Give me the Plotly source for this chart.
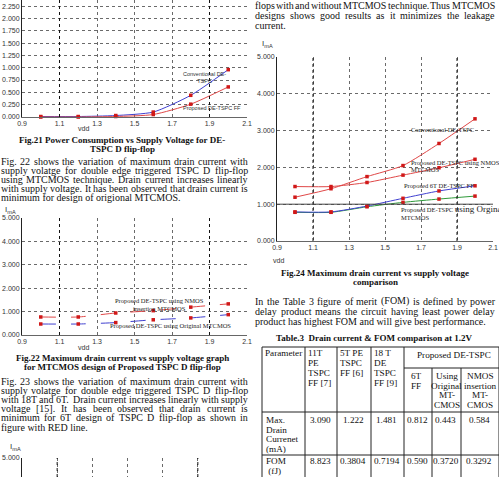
import plotly.graph_objects as go

W, H = 499, 477

# ---------------- data ----------------
vdd = [1.0, 1.2, 1.4, 1.6, 1.8, 2.0]
vdd_ticks = [0.9, 1.1, 1.3, 1.5, 1.7, 1.9, 2.1]

# Fig.21 power consumption
fig21_conventional = [0.01, 0.01, 0.03, 0.10, 0.44, 0.96]
fig21_proposed = [0.00, 0.00, 0.01, 0.05, 0.26, 0.61]
fig21_yticks = [0, 0.25, 0.5, 0.75, 1.0, 1.25, 1.5, 1.75, 2.0, 2.25]

# Fig.22 drain current, MTCMOS designs
fig22_nmos = [0.77, 0.77, 0.94, 1.04, 1.19, 1.33]
fig22_original = [0.47, 0.47, 0.53, 0.65, 0.73, 0.87]

# Fig.24 drain current comparison
fig24_conventional = [1.19, 1.42, 1.75, 2.05, 2.65, 3.32]
fig24_nmos = [1.48, 1.48, 1.59, 1.79, 1.99, 2.22]
fig24_6t = [0.79, 0.79, 0.95, 1.16, 1.36, 1.50]
fig24_original = [0.78, 0.78, 0.93, 1.05, 1.14, 1.22]

current_yticks = [0, 1, 2, 3, 4, 5]

# Table 3
table_title = "Table.3  Drain current & FOM comparison at 1.2V"
table_param = "Parameter"
table_col_heads = [["11T", "PE", "TSPC", "FF [7]"], ["5T PE", "TSPC", "FF [6]"], ["18 T", "DE", "TSPC", "FF [9]"]]
table_group_head = "Proposed DE-TSPC"
table_sub_heads = [["6T", "FF"], ["Using", "Original", "MT-", "CMOS"], ["NMOS", "insertion", "MT-", "CMOS"]]
table_row_heads = [["Max.", "Drain", "Currenet", "(mA)"], ["FOM", " (fJ)"]]
drain_current = ["3.090", "1.222", "1.481", "0.812", "0.443", "0.584"]
fom = ["8.823", "0.3804", "0.7194", "0.590", "0.3720", "0.3292"]

# Page text
caption21 = ["Fig.21 Power Consumption vs Supply Voltage for DE-", "TSPC D flip-flop"]
para22 = [
    "Fig. 22 shows the variation of maximum drain current with",
    "supply volatge for double edge triggered TSPC D flip-flop",
    "using MTCMOS technique. Drain current increases linearly",
    "with supply voltage. It has been observed that drain current is",
    "minimum for design of origional MTCMOS.",
]
caption22 = ["Fig.22 Maximum drain current vs supply voltage graph", "for MTCMOS design of Proposed TSPC D flip-flop"]
para23 = [
    "Fig. 23 shows the variation of maximum drain current with",
    "supply volatge for double edge triggered TSPC D flip-flop",
    "with 18T and 6T. Drain current increases linearly with supply",
    "voltage [15]. It has been observed that drain current is",
    "minimum for 6T design of TSPC D flip-flop as shown in",
    "figure with RED line.",
]
para_right_top = [
    "supply voltage for double edge triggered TSPC D flip-",
    "flops with and without MTCMOS technique. Thus MTCMOS",
    "designs shows good results as it minimizes the leakage",
    "current.",
]
caption24 = ["Fig.24 Maximum drain current vs supply voltage", "comparison"]
para_fom = [
    "In the Table 3 figure of merit (FOM) is defined by power",
    "delay product means the circuit having least power delay",
    "product has highest FOM and will give best performance.",
]

# ---------------- helpers ----------------
SERIF = "Liberation Serif"
SANS = "Liberation Sans"
GRID = "#6a6a6a"
TICKFONT = dict(family=SANS, size=7, color="#333")
RED = "#e04848"
MRED = "#d01818"
BLUE = "#4040d0"
GREEN = "#2f9a3a"

TIMES = {" ": 250, "!": 333, "&": 778, "(": 333, ")": 333, ",": 250, "-": 333, ".": 250,
         ":": 278, ";": 278, "[": 333, "]": 333,
         "A": 722, "B": 667, "C": 667, "D": 722, "E": 611, "F": 556, "G": 722, "H": 722, "I": 333,
         "J": 389, "K": 722, "L": 611, "M": 889, "N": 722, "O": 722, "P": 556, "Q": 722, "R": 667,
         "S": 556, "T": 611, "U": 722, "V": 722, "W": 944, "X": 722, "Y": 722, "Z": 611,
         "a": 444, "b": 500, "c": 444, "d": 500, "e": 444, "f": 333, "g": 500, "h": 500, "i": 278,
         "j": 278, "k": 500, "l": 278, "m": 778, "n": 500, "o": 500, "p": 500, "q": 500, "r": 333,
         "s": 389, "t": 278, "u": 500, "v": 500, "w": 722, "x": 500, "y": 500, "z": 444}


def tw(s, size):
    return sum(TIMES.get(c, 500) for c in s) * size / 1000.0


annotations = []
shapes = []


def ann(text, x, y, size=10, family=SERIF, xanchor="left", color="#111", xref="paper", yref="paper", yanchor="middle"):
    if xref == "paper":
        x = x / W
    if yref == "paper":
        y = 1 - y / H
    annotations.append(dict(text=text, x=x, y=y, xref=xref, yref=yref, xanchor=xanchor, yanchor=yanchor,
                            showarrow=False, borderpad=0, borderwidth=0,
                            font=dict(family=family, size=size, color=color)))


def paragraph(lines, x0, x1, y0, dy, size=10, last_justify=False):
    for i, line in enumerate(lines):
        y = y0 + i * dy
        words = line.split()
        is_last = i == len(lines) - 1
        if (is_last and not last_justify) or len(words) == 1:
            ann(line, x0, y, size)
            continue
        widths = [tw(w, size) for w in words]
        gap = (x1 - x0 - sum(widths)) / (len(words) - 1)
        x = x0
        for w, wd in zip(words, widths):
            ann(w, x, y, size)
            x += wd + gap


def centered(lines, xc, y0, dy, size=9):
    for i, line in enumerate(lines):
        ann("<b>" + line + "</b>", xc, y0 + i * dy, size, xanchor="center")


def xaxis(x0, x1, anchor, labels=True):
    return dict(domain=[x0 / W, x1 / W], anchor=anchor, range=[0.9, 2.1], tickvals=vdd_ticks,
                ticktext=[f"{v:.1f}" for v in vdd_ticks], showticklabels=labels,
                showgrid=True, gridcolor=GRID, griddash="dot", gridwidth=1, zeroline=False,
                showline=True, linecolor="#666", linewidth=1, ticks="", tickfont=TICKFONT,
                automargin=False, fixedrange=True)


def yaxis(ybot, ytop, anchor, rng, ticks):
    d0 = max(0.0, 1 - ybot / H)
    d1 = min(1.0, 1 - ytop / H)
    return dict(domain=[d0, d1], anchor=anchor, range=rng, tickvals=ticks,
                ticktext=[f"{v:.3f}" for v in ticks], showgrid=True, gridcolor=GRID, griddash="dot",
                gridwidth=1, zeroline=False, showline=True, linecolor="#222", linewidth=1,
                ticks="", tickfont=TICKFONT, automargin=False, fixedrange=True)


fig = go.Figure()


def series(xa, ya, y, color, dash="solid", width=1):
    fig.add_trace(go.Scatter(x=vdd, y=y, xaxis=xa, yaxis=ya, mode="lines+markers",
                             line=dict(color=color, width=width, dash=dash, shape="spline", smoothing=0.6),
                             marker=dict(symbol="square", size=3.5, color=MRED),
                             cliponaxis=False, hoverinfo="skip"))


# Fig.21
series("x", "y", fig21_conventional, BLUE)
series("x", "y", fig21_proposed, RED)
# Fig.22
series("x2", "y2", fig22_nmos, RED, dash="longdash")
series("x2", "y2", fig22_original, BLUE, dash="longdash")
# Fig.24
series("x3", "y3", fig24_conventional, RED)
series("x3", "y3", fig24_nmos, RED)
series("x3", "y3", fig24_original, GREEN)
series("x3", "y3", fig24_6t, BLUE)
# Fig.23 (only top of frame visible)
fig.add_trace(go.Scatter(x=[None], y=[None], xaxis="x4", yaxis="y4", mode="lines", hoverinfo="skip"))

PX21 = 49.3  # px per unit fig21
layout_axes = dict(
    xaxis=xaxis(22, 247, "y"),
    yaxis=yaxis(117, -10, "x", [0, 117 / PX21], fig21_yticks),
    xaxis2=xaxis(22, 247, "y2"),
    yaxis2=yaxis(335, 218, "x2", [0, 5], current_yticks),
    xaxis3=xaxis(277, 493, "y3"),
    yaxis3=yaxis(241, 57, "x3", [0, 5], current_yticks),
    xaxis4=xaxis(22, 233, "y4", labels=False),
    yaxis4=yaxis(477, 458, "x4", [4.6, 5.0], [5]),
)

# darker grid lines
for xa, ya in [("x", "y"), ("x2", "y2"), ("x3", "y3"), ("x4", "y4")]:
    for xv in (1.1, 1.9):
        shapes.append(dict(type="line", xref=xa, yref=ya + " domain", x0=xv, x1=xv, y0=0, y1=1,
                           line=dict(color="#111", width=1, dash="dot")))
shapes.append(dict(type="line", xref="x3 domain", yref="y3", x0=0, x1=1, y0=1, y1=1,
                   line=dict(color="#444", width=1)))

# chart labels
ann("vdd", 83, 128, 7, SANS, "center", "#333")
ann("vdd", 83, 347, 7, SANS, "center", "#333")
ann("vdd", 278, 260, 7, SANS, "center", "#333")
ann("I<sub>mA</sub>", 5, 210, 8, SANS, "left", "#333")
ann("I<sub>mA</sub>", 262, 44, 8, SANS, "left", "#333")
ann("I<sub>mA</sub>", 10, 447, 8, SANS, "left", "#333")

ann("Conventional DE-<br>TSPC", 1.76, 0.81, 5.5, SANS, "left", "#333", "x", "y")
ann("Proposed DE-TSPC FF", 1.757, 0.18, 5.5, SANS, "left", "#333", "x", "y")

ann("Proposed DE-TSPC using NMOS<br>insertion MTCMOS", 1.396, 1.30, 6.5, SERIF, "left", "#222", "x2", "y2")
ann("Proposed DE-TSPC using Original MTCMOS", 1.369, 0.39, 6.5, SERIF, "left", "#222", "x2", "y2")

ann("Conventional DE-TSPC", 1.644, 3.04, 6.5, SERIF, "left", "#222", "x3", "y3")
ann("Proposed DE-TSPC using NMOS insertion", 1.644, 2.12, 6.5, SERIF, "left", "#222", "x3", "y3")
ann("MTCMOS", 1.644, 1.93, 6.5, SERIF, "left", "#222", "x3", "y3")
ann("Proposed 6T DE-TSPC FF", 1.606, 1.52, 6.5, SERIF, "left", "#222", "x3", "y3")
ann("Proposed DE-TSPC <span style='font-size:9px'>using Orginal</span>", 1.589, 0.87, 6.5, SERIF, "left", "#222", "x3", "y3")
ann("MTCMOS", 1.589, 0.65, 6.5, SERIF, "left", "#222", "x3", "y3")

# page text
centered(caption21, 122, 140, 9)
paragraph(para22, 0.5, 248, 161, 9.2)
centered(caption22, 122, 358, 9)
paragraph(para23, 0.5, 248, 381, 9.2)
paragraph(para_right_top, 255, 495, -5, 10.3)
centered(caption24, 375, 273, 9)
paragraph(para_fom, 255, 495, 301, 10)
centered([table_title], 374, 338, 9)

# ---------------- table ----------------
cb = [262, 305, 337, 371, 404, 432, 461, 499]
t_top, t_sub, t_head, t_row1, t_bot = 347, 368, 412, 455, 495
LC = "#222"
for i, x in enumerate(cb):
    y0 = t_sub if i in (5, 6) else t_top
    shapes.append(dict(type="line", xref="paper", yref="paper", x0=x / W, x1=x / W, y0=1 - y0 / H, y1=1 - t_bot / H,
                       line=dict(color=LC, width=1)))
for y, xa, xb in [(t_top, cb[0], cb[-1]), (t_sub, cb[4], cb[-1]), (t_head, cb[0], cb[-1]), (t_row1, cb[0], cb[-1])]:
    shapes.append(dict(type="line", xref="paper", yref="paper", x0=xa / W, x1=xb / W, y0=1 - y / H, y1=1 - y / H,
                       line=dict(color=LC, width=1)))

TS = 9.2
ann(table_param, cb[0] + 3, 353, TS)
for j, lines in enumerate(table_col_heads):
    for k, line in enumerate(lines):
        ann(line, cb[1 + j] + 3, 353 + 10 * k, TS)
ann(table_group_head, (cb[4] + cb[-1]) / 2 + 2, 355, TS, xanchor="center")
for j, lines in enumerate(table_sub_heads):
    for k, line in enumerate(lines):
        if j == 0:
            ann(line, cb[4] + 7, 376 + 9.7 * k, TS)
        else:
            ann(line, (cb[4 + j] + cb[5 + j]) / 2, 376 + 9.7 * k, TS, xanchor="center")
row_y = [420, 461]
for r, lines in enumerate(table_row_heads):
    for k, line in enumerate(lines):
        ann(line, cb[0] + 4, row_y[r] + 9.7 * k, TS)
for r, vals in enumerate([drain_current, fom]):
    for j, v in enumerate(vals):
        ann(v, (cb[1 + j] + cb[2 + j]) / 2 - 1, row_y[r], TS, xanchor="center")

fig.update_layout(
    width=W, height=H, margin=dict(l=0, r=0, t=0, b=0),
    paper_bgcolor="white", plot_bgcolor="white", showlegend=False,
    annotations=annotations, shapes=shapes, **layout_axes,
)

fig.write_html("out.html", config={"displayModeBar": False, "staticPlot": True})
